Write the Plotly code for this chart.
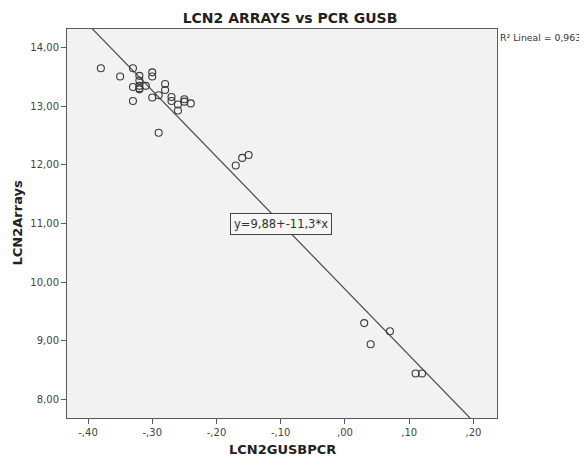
import plotly.graph_objects as go

# ---- data ----
gusb_pcr = [-0.38, -0.35, -0.33, -0.32, -0.32, -0.32, -0.32, -0.32, -0.33, -0.31,
            -0.30, -0.30, -0.33, -0.30, -0.29, -0.28, -0.28, -0.27, -0.27, -0.26,
            -0.26, -0.25, -0.25, -0.24, -0.29, -0.17, -0.16, -0.15, 0.03, 0.04,
            0.07, 0.11, 0.12]
lcn2_arrays = [13.65, 13.51, 13.65, 13.52, 13.44, 13.35, 13.31, 13.29, 13.33, 13.35,
               13.58, 13.51, 13.09, 13.15, 13.19, 13.38, 13.28, 13.16, 13.09, 13.03,
               12.93, 13.12, 13.08, 13.05, 12.55, 11.99, 12.12, 12.17, 9.30, 8.94,
               9.16, 8.44, 8.44]

intercept = 9.88
slope = -11.3
r2_text = "R² Lineal = 0,963"
eq_text = "y=9,88+-11,3*x"

x_tick_vals = [-0.4, -0.3, -0.2, -0.1, 0.0, 0.1, 0.2]
x_tick_text = ["-,40", "-,30", "-,20", "-,10", ",00", ",10", ",20"]
y_tick_vals = [8, 9, 10, 11, 12, 13, 14]
y_tick_text = ["8,00", "9,00", "10,00", "11,00", "12,00", "13,00", "14,00"]

x_range = [-0.4327, 0.2367]
y_range = [7.68, 14.32]

# fit line across the full x range (clipped by the plot area)
line_x = x_range
line_y = [intercept + slope * v for v in line_x]
label_y = 11.0
label_x = (label_y - intercept) / slope

FONT = "DejaVu Sans"
fig = go.Figure()
fig.add_trace(go.Scatter(
    x=line_x, y=line_y, mode="lines",
    line=dict(color="#4a4a4a", width=1.2),
    hoverinfo="skip", showlegend=False))
fig.add_trace(go.Scatter(
    x=gusb_pcr, y=lcn2_arrays, mode="markers",
    marker=dict(symbol="circle-open", size=7, color="#3a3a3a", line=dict(width=1.1)),
    showlegend=False))

# The page body has an 8px default margin, so the figure is drawn 8px in from
# the window's top-left corner; size it so it fills the rest of the window.
OFF = 8
W, H = 587 - OFF, 462 - OFF
# plot frame in window pixels: x 67..497, y 29..418
L = 67 - OFF
T = 29 - OFF
pw = 430
ph = 389
R = W - L - pw
B = H - T - ph
plot_bottom = T + ph  # in figure pixels

fig.update_layout(
    width=W, height=H,
    margin=dict(l=L, r=R, t=T, b=B, pad=0),
    paper_bgcolor="white",
    plot_bgcolor="#f2f2f2",
    font=dict(family=FONT, color="#333333"),
    title=dict(text="<b>LCN2 ARRAYS vs PCR GUSB</b>",
               x=(290 - OFF) / W, xanchor="center",
               y=1 - (18 - OFF) / H, yanchor="middle",
               font=dict(family=FONT, size=14, color="#222222")),
    xaxis=dict(range=x_range, tickvals=x_tick_vals, ticktext=x_tick_text,
               showgrid=False, zeroline=False, showline=True, mirror=True,
               linecolor="#5a5a5a", linewidth=1, ticks="outside", ticklen=5,
               tickcolor="#5a5a5a", tickfont=dict(size=10, color="#444444")),
    yaxis=dict(range=y_range, tickvals=y_tick_vals, ticktext=y_tick_text,
               showgrid=False, zeroline=False, showline=True, mirror=True,
               linecolor="#5a5a5a", linewidth=1, ticks="outside", ticklen=5,
               tickcolor="#5a5a5a", tickfont=dict(size=10, color="#444444")),
    annotations=[
        dict(text="<b>LCN2GUSBPCR</b>", xref="paper", yref="paper",
             x=0.5, y=-((449 - OFF) - plot_bottom) / ph,
             xanchor="center", yanchor="middle",
             showarrow=False, font=dict(family=FONT, size=13, color="#222222")),
        dict(text="<b>LCN2Arrays</b>", xref="paper", yref="paper",
             x=((17 - OFF) - L) / pw, y=0.5, xanchor="center", yanchor="middle",
             textangle=-90, showarrow=False,
             font=dict(family=FONT, size=13, color="#222222")),
        dict(text=r2_text, xref="paper", yref="paper",
             x=((498.5 - OFF) - L) / pw, y=(plot_bottom - (37.5 - OFF)) / ph,
             xanchor="left", yanchor="middle",
             showarrow=False, borderpad=0,
             font=dict(family=FONT, size=9.3, color="#333333")),
        dict(text=eq_text, xref="x", yref="y", x=label_x, y=label_y,
             xanchor="center", yanchor="middle", showarrow=False,
             bgcolor="#f6f6f6", bordercolor="#444444", borderwidth=1, borderpad=3,
             font=dict(family=FONT, size=11.5, color="#333333")),
    ],
)

fig.write_html("out.html")
